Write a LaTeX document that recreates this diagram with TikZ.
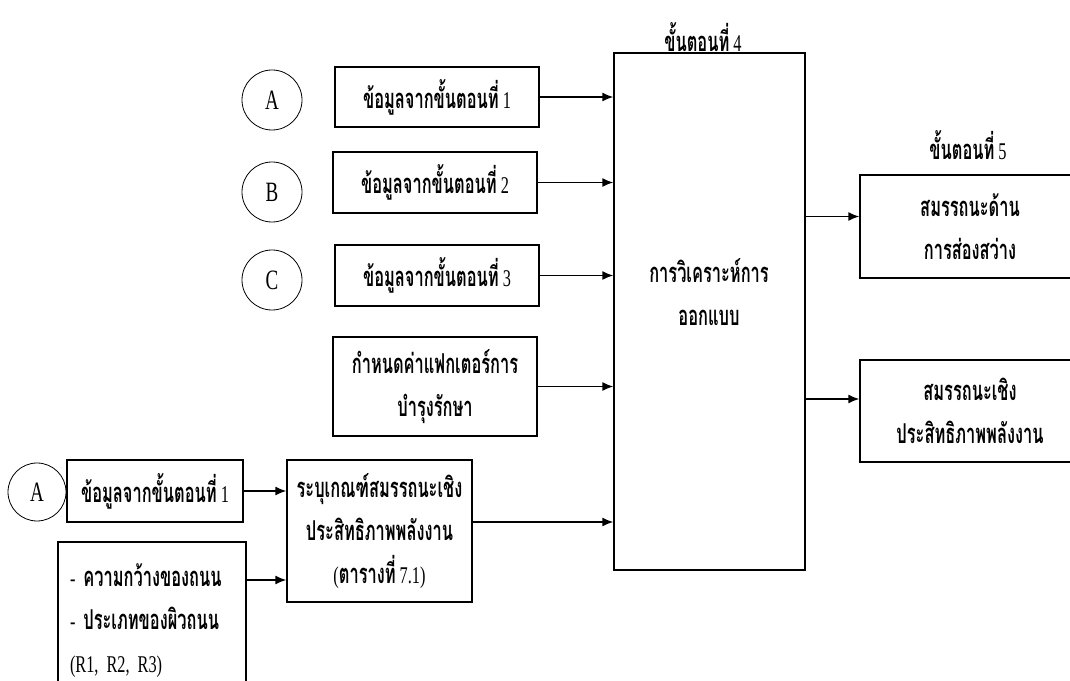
\documentclass[tikz,border=0pt]{standalone}
\usepackage{fontspec}
\setmainfont[FakeStretch=0.68]{Liberation Serif}
\newfontfamily\thaifont[Script=Thai,FakeStretch=0.6,Scale=1.14]{Loma}
\newcommand{\thtxt}[1]{{\thaifont\bfseries #1}}
\usetikzlibrary{arrows.meta,positioning}

\begin{document}
\begin{tikzpicture}[x=1pt, y=1pt,
  blk/.style={draw, line width=1.4pt, align=center, inner sep=0pt, font=\fontsize{24}{43}\selectfont},
  circ/.style={draw, circle, line width=0.8pt, minimum size=60pt, inner sep=0pt, font=\fontsize{28}{30}\selectfont},
  txt/.style={align=center, inner sep=0pt, font=\fontsize{24}{43}\selectfont},
  flow/.style={-{Latex[length=11pt,width=9pt]}, line width=1.4pt}]
\useasboundingbox (0,0) rectangle (1070,680);

% inputs of step 4
\node[circ] (cA) at (272,580) {A};
\node[circ] (cB) at (272,488) {B};
\node[circ] (cC) at (272,400) {C};
\node[blk, minimum width=204pt, minimum height=60pt] (dat1) at (437,583) {\thtxt{ข้อมูลจากขั้นตอนที่} 1};
\node[blk, minimum width=204pt, minimum height=61pt] (dat2) at (435,497.5) {\thtxt{ข้อมูลจากขั้นตอนที่} 2};
\node[blk, minimum width=204pt, minimum height=61pt] (dat3) at (437,404.5) {\thtxt{ข้อมูลจากขั้นตอนที่} 3};
\node[blk, minimum width=204pt, minimum height=99pt] (maint) at (435,293.5) {\thtxt{กำหนดค่าแฟกเตอร์การ}\\\thtxt{บำรุงรักษา}};

% criteria part
\node[circ, minimum size=58pt] (cA2) at (37,188) {A};
\node[blk, minimum width=176pt, minimum height=62pt] (dat1b) at (155,189) {\thtxt{ข้อมูลจากขั้นตอนที่} 1};
\node[blk, minimum width=188pt, minimum height=158pt, align=left, text width=164pt] (road) at (152,59) {- \thtxt{ความกว้างของถนน}\\- \thtxt{ประเภทของผิวถนน}\\(R1, R2, R3)};
\node[blk, minimum width=185pt, minimum height=142pt] (crit) at (379.5,149) {\thtxt{ระบุเกณฑ์สมรรถนะเชิง}\\\thtxt{ประสิทธิภาพพลังงาน}\\(\thtxt{ตารางที่} 7.1)};

% step 4
\node[blk, minimum width=191pt, minimum height=517pt] (main) at (709.5,368.5) {};
\node[txt] (maintxt) at (709,388) {\thtxt{การวิเคราะห์การ}\\\thtxt{ออกแบบ}};
\node[txt] (hd4) at (703,643) {\thtxt{ขั้นตอนที่} 4};

% step 5
\node[blk, minimum width=220pt, minimum height=103pt] (res1) at (970,453.5) {\thtxt{สมรรถนะด้าน}\\\thtxt{การส่องสว่าง}};
\node[blk, minimum width=220pt, minimum height=102pt] (res2) at (970,269) {\thtxt{สมรรถนะเชิง}\\\thtxt{ประสิทธิภาพพลังงาน}};
\node[txt] (hd5) at (968,535) {\thtxt{ขั้นตอนที่} 5};

\coordinate (in1) at ([yshift=10pt]res1.west);
\coordinate (in2) at ([yshift=12pt]res2.west);
\coordinate (critout) at ([yshift=9pt]crit.east);
\coordinate (roadout) at ([yshift=41pt]road.east);

\draw[flow] (dat1.east) -- (dat1.east -| main.west);
\draw[flow] (dat2.east) -- (dat2.east -| main.west);
\draw[flow] (dat3.east) -- (dat3.east -| main.west);
\draw[flow] (maint.east) -- (maint.east -| main.west);
\draw[flow] (critout) -- (critout -| main.west);
\draw[flow] (dat1b.east) -- (dat1b.east -| crit.west);
\draw[flow] (roadout) -- (roadout -| crit.west);
\draw[flow] (main.east |- in1) -- (in1);
\draw[flow] (main.east |- in2) -- (in2);
\end{tikzpicture}
\end{document}
